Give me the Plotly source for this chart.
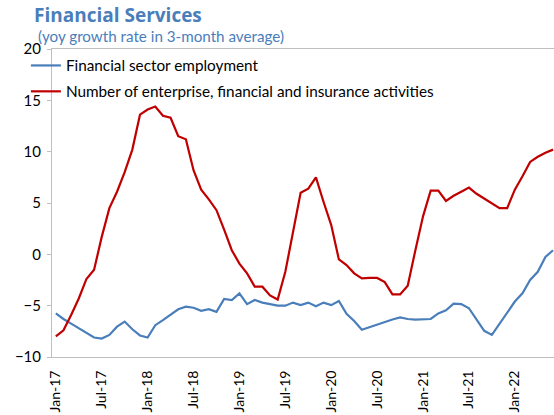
import plotly.graph_objects as go

# Monthly observations, Jan-2017 through Jun-2022 (yoy %, 3-month average)
employment = [
    -5.75, -6.3, -6.75, -7.2, -7.7, -8.1, -8.2, -7.85, -7.05, -6.55, -7.3, -7.9,
    -8.1, -6.9, -6.4, -5.85, -5.35, -5.1, -5.2, -5.5, -5.35, -5.6, -4.35, -4.45,
    -3.8, -4.85, -4.45, -4.7, -4.85, -5.0, -5.0, -4.7, -4.95, -4.7, -5.05, -4.7,
    -4.95, -4.55, -5.8, -6.5, -7.35, -7.1, -6.8, -6.55, -6.35, -6.15, -6.3, -6.35,
    -6.35, -6.3, -5.75, -5.45, -4.8, -4.85, -5.25, -6.4, -7.45, -7.85, -6.8, -5.75,
    -4.6, -3.8, -2.5, -1.7, -0.25, 0.4,
]
enterprises = [
    -8.0, -7.4, -5.9, -4.3, -2.4, -1.5, 1.7, 4.5, 6.1, 8.0, 10.2, 13.6,
    14.1, 14.4, 13.5, 13.3, 11.5, 11.2, 8.2, 6.3, 5.35, 4.3, 2.4, 0.4,
    -0.9, -1.85, -3.15, -3.15, -4.0, -4.4, -1.7, 2.1, 6.0, 6.4, 7.5, 5.1,
    2.85, -0.5, -1.05, -1.85, -2.35, -2.3, -2.3, -2.7, -3.9, -3.9, -3.05, 0.4,
    3.7, 6.2, 6.2, 5.2, 5.7, 6.1, 6.5, 5.9, 5.45, 5.0, 4.5, 4.5,
    6.3, 7.6, 9.0, 9.5, 9.9, 10.2,
]
tick_labels = ["Jan-17", "Jul-17", "Jan-18", "Jul-18", "Jan-19", "Jul-19",
               "Jan-20", "Jul-20", "Jan-21", "Jul-21", "Jan-22"]

months = list(range(len(enterprises)))
tick_pos = [6 * k for k in range(len(tick_labels))]
boundaries = [p - 0.5 for p in tick_pos]

BLUE = "#4A7EBB"
RED = "#C00000"
GRID = "#BFBFBF"
FONT = "Lato"

x_range = [-0.5, 65.12]
y_range = [-10, 20]

fig = go.Figure()
fig.add_trace(go.Scatter(x=months, y=employment, mode="lines",
                         name="Financial sector employment", legendgroup="a",
                         line=dict(color=BLUE, width=2.2)))
fig.add_trace(go.Scatter(x=months, y=enterprises, mode="lines",
                         name="Number of enterprise, financial and insurance activities",
                         legendgroup="b",
                         line=dict(color=RED, width=2.2)))

zero_pos = (0 - y_range[0]) / (y_range[1] - y_range[0])

fig.update_layout(
    width=554, height=415,
    margin=dict(l=52, r=0, t=49, b=58, autoexpand=False),
    paper_bgcolor="white", plot_bgcolor="white",
    font=dict(family=FONT, size=14, color="black"),
    showlegend=True,
    legend=dict(x=-0.052, y=1.0, xanchor="left", yanchor="top",
                bgcolor="rgba(0,0,0,0)", font=dict(size=15.3, color="black"),
                tracegroupgap=3, itemwidth=30),
    title=dict(text="<b>Financial Services</b>", x=34 / 554, xanchor="left",
               xref="container", y=1 - 15 / 415, yanchor="middle",
               font=dict(family="Open Sans", size=19, color=BLUE)),
    annotations=[dict(text="(yoy growth rate in 3-month average)",
                      xref="paper", yref="paper", x=-16 / 502, y=1 + 13 / 308,
                      xanchor="left", yanchor="middle", showarrow=False,
                      font=dict(family=FONT, size=15.2, color=BLUE))],
    xaxis=dict(range=x_range, tickmode="array", tickvals=tick_pos,
               ticktext=tick_labels, tickangle=-90, ticks="",
               ticklabelstandoff=7, automargin=False,
               showline=True, linecolor=GRID, linewidth=1, mirror=True,
               showgrid=False, zeroline=False, tickfont=dict(size=14)),
    xaxis2=dict(range=x_range, overlaying="x", anchor="free", position=zero_pos,
                tickmode="array", tickvals=boundaries, ticks="inside",
                ticklen=5, tickcolor=GRID, showticklabels=False,
                showline=True, linecolor=GRID, linewidth=1,
                showgrid=False, zeroline=False),
    yaxis=dict(range=y_range, dtick=5, ticks="outside", ticklen=4,
               ticklabelstandoff=3,
               tickcolor=GRID, showline=True, linecolor=GRID, linewidth=1,
               automargin=False,
               showgrid=False, zeroline=False, tickfont=dict(size=15)),
)

fig.write_html("out.html")
